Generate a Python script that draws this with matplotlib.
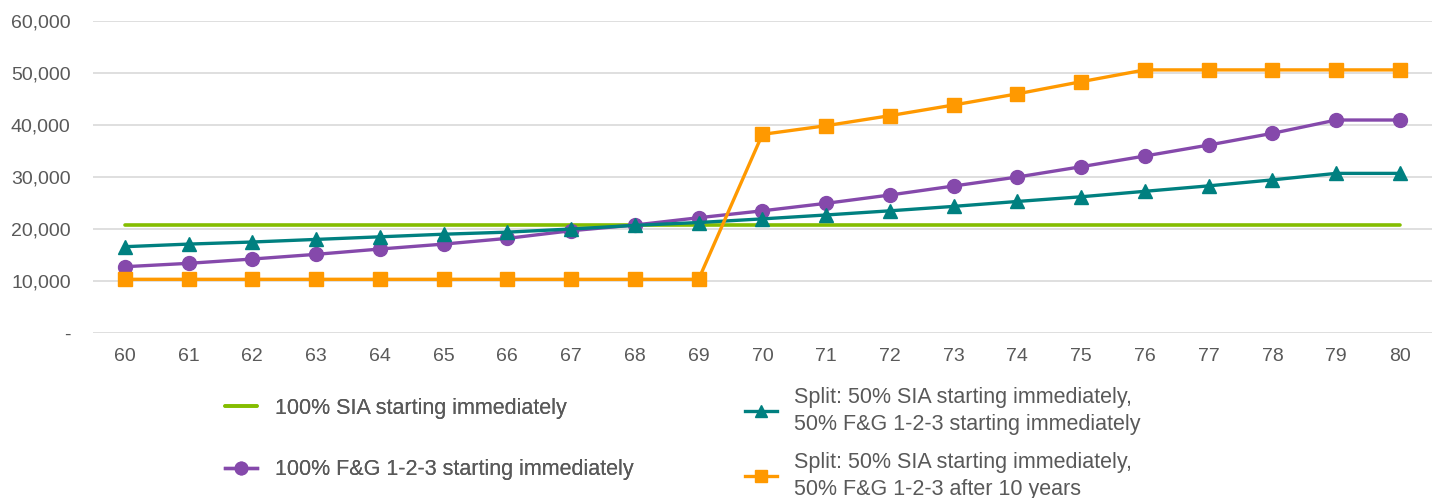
import matplotlib
matplotlib.use("Agg")
import matplotlib.pyplot as plt
from matplotlib.ticker import FuncFormatter

ages = list(range(60, 81))
sia_100 = [20800] * 21
fg_100 = [12750, 13400, 14230, 15130, 16150, 17100, 18200, 19670, 20770, 22170,
          23500, 24940, 26540, 28270, 30000, 31980, 34040, 36150, 38400, 40960, 40960]
split_imm = [16600, 17100, 17500, 18000, 18500, 19000, 19400, 20000, 20700, 21250,
             21950, 22700, 23500, 24350, 25300, 26200, 27250, 28300, 29450, 30700, 30700]
split_10 = [10330] * 10 + [38200, 39870, 41800, 43850, 46000, 48330, 50600, 50600, 50600, 50600, 50600]

labels = ["100% SIA starting immediately",
          "100% F&G 1-2-3 starting immediately",
          "Split: 50% SIA starting immediately,\n50% F&G 1-2-3 starting immediately",
          "Split: 50% SIA starting immediately,\n50% F&G 1-2-3 after 10 years"]
yticks = [0, 10000, 20000, 30000, 40000, 50000, 60000]

plt.rcParams['font.family'] = ['Liberation Sans', 'DejaVu Sans']
GREEN = '#84BD00'
PURPLE = '#8549AB'
TEAL = '#008080'
ORANGE = '#FF9900'
TXT = '#595959'

fig = plt.figure(figsize=(14.39, 4.98), dpi=100)
ax = fig.add_axes([0.0646, 0.3313, 0.9304, 0.6265])

l1, = ax.plot(ages, sia_100, color=GREEN, lw=2.6, solid_capstyle='round', zorder=3)
l2, = ax.plot(ages, fg_100, color=PURPLE, lw=2.4, marker='o', ms=10, zorder=4)
l3, = ax.plot(ages, split_imm, color=TEAL, lw=2.4, marker='^', ms=10, zorder=4)
l4, = ax.plot(ages, split_10, color=ORANGE, lw=2.4, marker='s', ms=9.5, zorder=5)

ax.set_xlim(59.5, 80.5)
ax.set_ylim(0, 60000)
ax.set_xticks(ages)
ax.set_yticks(yticks)
ax.yaxis.set_major_formatter(FuncFormatter(lambda v, p: '-' if v == 0 else f'{int(v):,}'))
ax.grid(axis='y', color='#D9D9D9', lw=1.2)
ax.set_axisbelow(True)
for s in ax.spines.values():
    s.set_visible(False)
ax.tick_params(axis='both', length=0, labelsize=14, labelcolor=TXT)
ax.tick_params(axis='y', pad=16)
ax.tick_params(axis='x', pad=11)

LFS = 15.5
leg1 = fig.legend([l1, l2], labels[:2], loc='upper left', bbox_to_anchor=(0.1564, 0.2018),
                  frameon=False, fontsize=LFS, labelcolor=TXT, handlelength=1.5,
                  handletextpad=0.8, labelspacing=1.9, borderaxespad=0, borderpad=0)
leg2 = fig.legend([l3, l4], labels[2:], loc='upper left', bbox_to_anchor=(0.5177, 0.2225),
                  frameon=False, fontsize=LFS, labelcolor=TXT, handlelength=1.5,
                  handletextpad=0.8, labelspacing=0.8, borderaxespad=0, borderpad=0)
for t in leg2.get_texts():
    t.set_linespacing(1.35)
for lg in (leg1, leg2):
    for h in lg.legend_handles:
        h.set_markersize(9)
fig.add_artist(leg1)

fig.savefig('out.png', dpi=100, facecolor='white')
